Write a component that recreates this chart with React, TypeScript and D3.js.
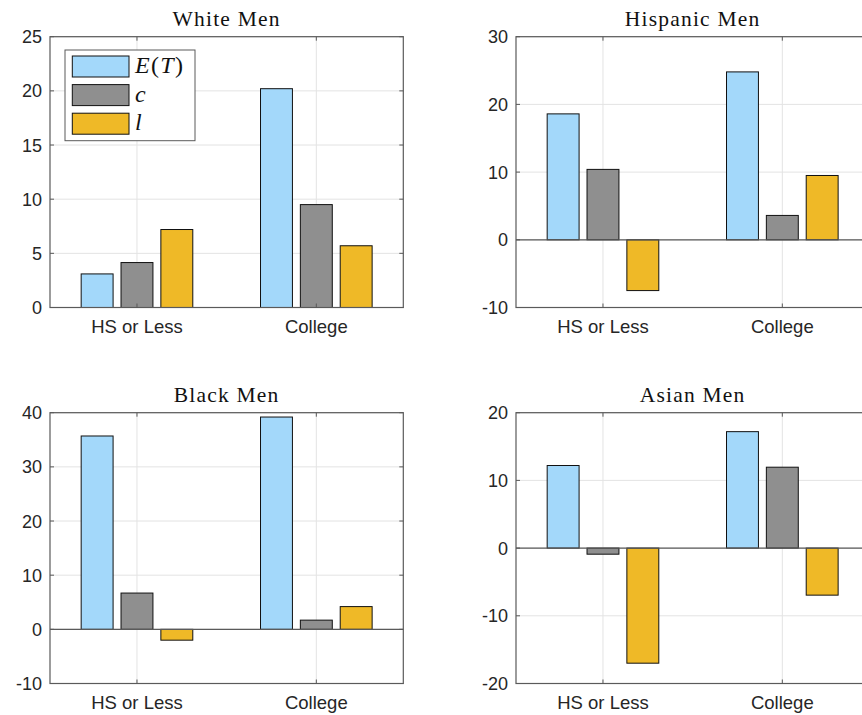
import React from "react";
import * as d3 from "d3";

// Category labels and series names
const categories = ["HS or Less", "College"];
const seriesKeys = ["ET", "c", "l"];
const seriesColors = ["#a3d8fa", "#8f8f8f", "#efb927"];

// Values per group: [E(T), c, l]
const whiteMen = [
  [3.1, 4.15, 7.2],
  [20.2, 9.5, 5.7],
];
const hispanicMen = [
  [18.6, 10.4, -7.5],
  [24.8, 3.6, 9.5],
];
const blackMen = [
  [35.7, 6.7, -2.0],
  [39.2, 1.7, 4.2],
];
const asianMen = [
  [12.2, -0.9, -17.0],
  [17.2, 11.95, -6.95],
];

// Y-axis ticks per panel
const whiteTicks = [0, 5, 10, 15, 20, 25];
const hispanicTicks = [-10, 0, 10, 20, 30];
const blackTicks = [-10, 0, 10, 20, 30, 40];
const asianTicks = [-20, -10, 0, 10, 20];

const panels = [
  { title: "White Men", data: whiteMen, ticks: whiteTicks, col: 0, row: 0, legend: true },
  { title: "Hispanic Men", data: hispanicMen, ticks: hispanicTicks, col: 1, row: 0, legend: false },
  { title: "Black Men", data: blackMen, ticks: blackTicks, col: 0, row: 1, legend: false },
  { title: "Asian Men", data: asianMen, ticks: asianTicks, col: 1, row: 1, legend: false },
];

const W = 862;
const H = 715;
const colLeft = [50, 516];
const rowTop = [36.7, 412.7];
const axW = 353.3;
const axH = 270.8;

const axisColor = "#5a5a5a";
const gridColor = "#e3e3e3";
const textColor = "#262626";
const sansFont = "'Liberation Sans', Arial, Helvetica, sans-serif";
const serifFont = "'Liberation Serif', 'Times New Roman', serif";

// Grouped-bar geometry (in x-data units)
const groupSpacing = 0.2222;
const barWidth = 0.178;

function Panel({ p }: { p: (typeof panels)[number] }) {
  const x0 = colLeft[p.col];
  const y0 = rowTop[p.row];
  const ext = d3.extent(p.ticks) as [number, number];
  const x = d3.scaleLinear().domain([0.515, 2.485]).range([x0, x0 + axW]);
  const y = d3.scaleLinear().domain(ext).range([y0 + axH, y0]);
  const tickLen = 4;

  return (
    <g>
      {/* horizontal grid */}
      {p.ticks.map((t) => (
        <line key={"gy" + t} x1={x0} x2={x0 + axW} y1={y(t)} y2={y(t)} stroke={gridColor} strokeWidth={1} />
      ))}
      {/* vertical grid */}
      {categories.map((c, i) => (
        <line key={"gx" + c} x1={x(i + 1)} x2={x(i + 1)} y1={y0} y2={y0 + axH} stroke={gridColor} strokeWidth={1} />
      ))}
      {/* bars */}
      {p.data.map((vals, gi) =>
        vals.map((v, si) => {
          const cx = x(gi + 1) + (si - 1) * groupSpacing * (x(1) - x(0));
          const bw = barWidth * (x(1) - x(0));
          const yTop = y(Math.max(0, v));
          const yBot = y(Math.min(0, v));
          return (
            <rect
              key={`b${gi}-${si}`}
              x={cx - bw / 2}
              y={yTop}
              width={bw}
              height={yBot - yTop}
              fill={seriesColors[si]}
              stroke="#111"
              strokeWidth={1}
            />
          );
        })
      )}
      {/* baseline */}
      <line x1={x0} x2={x0 + axW} y1={y(0)} y2={y(0)} stroke={axisColor} strokeWidth={1.2} />
      {/* box */}
      <rect x={x0} y={y0} width={axW} height={axH} fill="none" stroke={axisColor} strokeWidth={1.2} />
      {/* y ticks */}
      {p.ticks.map((t) => (
        <g key={"ty" + t}>
          <line x1={x0} x2={x0 + tickLen} y1={y(t)} y2={y(t)} stroke={axisColor} />
          <line x1={x0 + axW} x2={x0 + axW - tickLen} y1={y(t)} y2={y(t)} stroke={axisColor} />
          <text
            x={x0 - 8}
            y={y(t)}
            dy="0.36em"
            textAnchor="end"
            fontFamily={sansFont}
            fontSize={18}
            fill={textColor}
          >
            {t}
          </text>
        </g>
      ))}
      {/* x ticks */}
      {categories.map((c, i) => (
        <g key={"tx" + c}>
          <line x1={x(i + 1)} x2={x(i + 1)} y1={y0 + axH} y2={y0 + axH - tickLen} stroke={axisColor} />
          <line x1={x(i + 1)} x2={x(i + 1)} y1={y0} y2={y0 + tickLen} stroke={axisColor} />
          <text
            x={x(i + 1)}
            y={y0 + axH + 25.5}
            textAnchor="middle"
            fontFamily={sansFont}
            fontSize={18.5}
            fill={textColor}
          >
            {c}
          </text>
        </g>
      ))}
      {/* title */}
      <text
        x={x0 + axW / 2}
        y={y0 - 10.5}
        textAnchor="middle"
        fontFamily={serifFont}
        fontSize={21.5}
        letterSpacing={1.2}
        fill="#111"
      >
        {p.title}
      </text>
      {p.legend && <Legend x0={x0} y0={y0} />}
    </g>
  );
}

function Legend({ x0, y0 }: { x0: number; y0: number }) {
  const bx = x0 + 15;
  const by = y0 + 13.3;
  const bw = 130;
  const bh = 90.7;
  const rowStep = 28.6;
  const labels = [
    <>
      <tspan fontStyle="italic">E</tspan>
      <tspan>(</tspan>
      <tspan fontStyle="italic">T</tspan>
      <tspan>)</tspan>
    </>,
    <tspan fontStyle="italic">c</tspan>,
    <tspan fontStyle="italic">l</tspan>,
  ];
  return (
    <g>
      <rect x={bx} y={by} width={bw} height={bh} fill="#fff" stroke={axisColor} strokeWidth={1} />
      {seriesKeys.map((k, i) => (
        <g key={k}>
          <rect
            x={bx + 7.3}
            y={by + 6 + i * rowStep}
            width={56.7}
            height={21}
            fill={seriesColors[i]}
            stroke="#111"
            strokeWidth={1}
          />
          <text
            x={bx + 70}
            y={by + 6 + i * rowStep + 17}
            fontFamily={serifFont}
            fontSize={24}
            letterSpacing={1.3}
            fill="#111"
          >
            {labels[i]}
          </text>
        </g>
      ))}
    </g>
  );
}

export default function App() {
  return (
    <svg
      width={W}
      height={H}
      viewBox={`0 0 ${W} ${H}`}
      style={{ position: "absolute", left: 0, top: 0, background: "#fff" }}
    >
      <rect x={0} y={0} width={W} height={H} fill="#fff" />
      {panels.map((p) => (
        <Panel key={p.title} p={p} />
      ))}
    </svg>
  );
}
